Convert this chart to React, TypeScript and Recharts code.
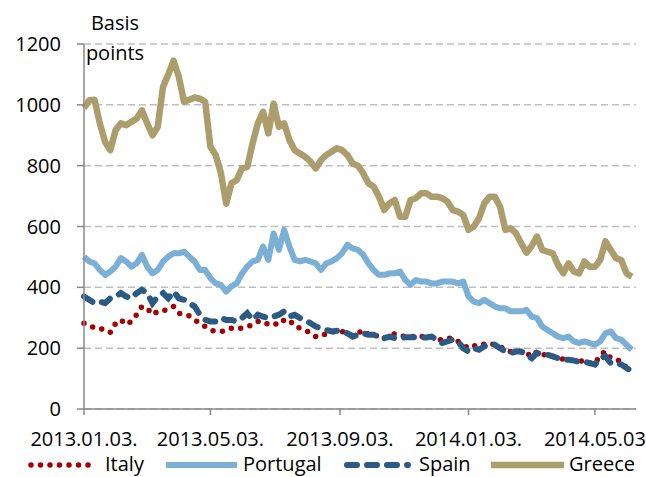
import { LineChart, Line, XAxis, YAxis, CartesianGrid } from "recharts";

// days since 2013.01.03
const dayOffsets = [
  0, 5, 10, 15, 20, 25, 30, 35, 40, 45, 50, 55, 60, 65, 70, 75, 80, 85, 90, 95,
  100, 105, 110, 115, 120, 125, 130, 135, 140, 145, 150, 155, 160, 165, 170, 175, 180, 185, 190, 195,
  200, 205, 210, 215, 220, 225, 230, 235, 240, 245, 250, 255, 260, 265, 270, 275, 280, 285, 290, 295,
  300, 305, 310, 315, 320, 325, 330, 335, 340, 345, 350, 355, 360, 365, 370, 375, 380, 385, 390, 395,
  400, 405, 410, 415, 420, 425, 430, 435, 440, 445, 450, 455, 460, 465, 470, 475, 480, 485, 490, 495,
  500, 505, 510, 515, 520,
];

const italy = [
  282, 277, 266, 263, 263, 252, 282, 293, 277, 288, 310, 337, 331, 310, 321, 321, 331, 337, 315, 310, 306, 293, 282, 271, 260, 255,
  255, 258, 266, 263, 266, 271, 277, 288, 288, 277, 282, 277, 293, 293, 271, 266, 260, 249, 238, 238, 249, 255, 252, 255, 249, 241,
  249, 260, 244, 244, 238, 233, 241, 247, 241, 238, 238, 238, 238, 238, 238, 228, 228, 233, 233, 222, 211, 200, 208, 206, 214, 217,
  211, 206, 195, 189, 189, 189, 184, 173, 189, 178, 178, 173, 167, 164, 162, 160, 156, 160, 151, 149, 178, 189, 167, 162, 156, 135, 129,
];

const portugal = [
  501, 485, 479, 457, 441, 452, 468, 496, 485, 468, 479, 507, 468, 446, 457, 485, 501, 512, 512, 517, 501, 485, 457, 457, 430, 413,
  408, 386, 403, 413, 446, 468, 485, 490, 534, 490, 577, 523, 589, 534, 490, 485, 490, 485, 479, 457, 479, 485, 496, 512, 540, 528,
  523, 507, 479, 457, 441, 441, 446, 446, 452, 424, 408, 424, 419, 419, 413, 413, 419, 419, 419, 413, 419, 370, 353, 348, 359, 348,
  337, 331, 331, 321, 321, 321, 326, 304, 299, 271, 260, 249, 238, 233, 238, 222, 217, 222, 217, 211, 222, 249, 255, 233, 228, 211, 195,
];

const spain = [
  370, 359, 348, 353, 348, 364, 370, 381, 370, 364, 381, 392, 381, 348, 370, 381, 364, 386, 364, 359, 348, 337, 310, 293, 288, 288,
  299, 293, 293, 288, 299, 315, 293, 310, 304, 299, 304, 310, 321, 304, 310, 299, 293, 282, 271, 266, 260, 255, 257, 255, 249, 238,
  244, 249, 244, 244, 238, 233, 238, 233, 233, 236, 236, 236, 235, 235, 238, 228, 217, 222, 228, 222, 200, 189, 200, 195, 206, 211,
  211, 200, 189, 184, 189, 189, 178, 167, 184, 178, 178, 173, 167, 162, 162, 159, 156, 156, 151, 146, 167, 173, 151, 151, 146, 135, 124,
];

const greece = [
  990, 1015, 1017, 939, 878, 851, 917, 939, 933, 944, 955, 982, 939, 900, 928, 1059, 1100, 1145, 1092, 1010, 1017, 1024, 1020, 1010, 862, 835,
  775, 675, 742, 753, 791, 796, 873, 939, 977, 906, 1004, 928, 939, 884, 851, 840, 829, 813, 791, 818, 835, 846, 857, 851, 835, 807,
  800, 775, 742, 731, 698, 654, 676, 687, 632, 632, 687, 693, 709, 709, 698, 698, 693, 682, 654, 649, 638, 589, 600, 627, 676, 698,
  698, 665, 589, 594, 578, 545, 514, 536, 567, 523, 517, 512, 473, 446, 479, 452, 446, 485, 468, 468, 490, 551, 523, 496, 490, 446, 435,
];

const tickDays = [0, 120, 243, 365, 485];
const tickLabels = ["2013.01.03.", "2013.05.03.", "2013.09.03.", "2014.01.03.", "2014.05.03"];
const yTicks = [0, 200, 400, 600, 800, 1000, 1200];

const seriesNames = ["Italy", "Portugal", "Spain", "Greece"];

const rows = dayOffsets.map((day, i) => ({
  day,
  italy: italy[i],
  portugal: portugal[i],
  spain: spain[i],
  greece: greece[i],
}));

const FONT = "'Open Sans', sans-serif";
const AXIS = "#898989";

const colors = {
  italy: "#a50000",
  portugal: "#7aafd6",
  spain: "#2b5b84",
  greece: "#ab9e6c",
};

function Overlay() {
  return (
    <svg width={646} height={477} style={{ position: "absolute", left: 0, top: 0, pointerEvents: "none" }}>
      <g fontFamily={FONT} fontSize={20} fill="#000">
        <text x={115} y={30} textAnchor="middle">Basis</text>
        <text x={115} y={60} textAnchor="middle">points</text>
      </g>
      {/* legend */}
      <line x1={31} y1={465} x2={92} y2={465} stroke={colors.italy} strokeWidth={5.5} strokeDasharray="0 9.5" strokeLinecap="round" />
      <line x1={166} y1={465} x2={237} y2={465} stroke={colors.portugal} strokeWidth={6} />
      <line x1={347} y1={465} x2={408} y2={465} stroke={colors.spain} strokeWidth={6} strokeDasharray="10 10" strokeLinecap="round" />
      <line x1={491} y1={465} x2={564} y2={465} stroke={colors.greece} strokeWidth={6.5} />
      <g fontFamily={FONT} fontSize={20} fill="#000">
        <text x={105} y={471}>{seriesNames[0]}</text>
        <text x={243} y={471}>{seriesNames[1]}</text>
        <text x={419} y={471}>{seriesNames[2]}</text>
        <text x={569} y={471}>{seriesNames[3]}</text>
      </g>
    </svg>
  );
}

export default function App() {
  return (
    <div style={{ position: "absolute", left: 0, top: 0, width: 646, height: 477, overflow: "hidden", background: "#fff" }}>
      <LineChart width={646} height={477} data={rows} margin={{ top: 44, right: 10, left: 0, bottom: 0 }}>
        <CartesianGrid vertical={false} stroke="#bfbfbf" strokeWidth={1.5} strokeDasharray="7 4" />
        <XAxis
          dataKey="day"
          type="number"
          domain={[0, 524]}
          ticks={tickDays}
          interval={0}
          tickFormatter={(v: number) => tickLabels[tickDays.indexOf(v)]}
          height={68}
          tickSize={6}
          tickMargin={17}
          stroke={AXIS}
          strokeWidth={1.5}
          tick={{ fill: "#000", fontSize: 20, fontFamily: FONT }}
        />
        <YAxis
          domain={[0, 1200]}
          ticks={yTicks}
          interval={0}
          width={84}
          tickSize={7}
          tickMargin={16}
          stroke={AXIS}
          strokeWidth={1.5}
          tick={{ fill: "#000", fontSize: 20, fontFamily: FONT }}
        />
        <Line dataKey="italy" name="Italy" stroke={colors.italy} strokeWidth={5.5} strokeDasharray="0 9.5" strokeLinecap="round" dot={false} isAnimationActive={false} />
        <Line dataKey="portugal" name="Portugal" stroke={colors.portugal} strokeWidth={6} strokeLinejoin="round" dot={false} isAnimationActive={false} />
        <Line dataKey="spain" name="Spain" stroke={colors.spain} strokeWidth={6} strokeDasharray="10 10" strokeLinecap="round" dot={false} isAnimationActive={false} />
        <Line dataKey="greece" name="Greece" stroke={colors.greece} strokeWidth={6.5} strokeLinejoin="round" dot={false} isAnimationActive={false} />
      </LineChart>
      <Overlay />
    </div>
  );
}
